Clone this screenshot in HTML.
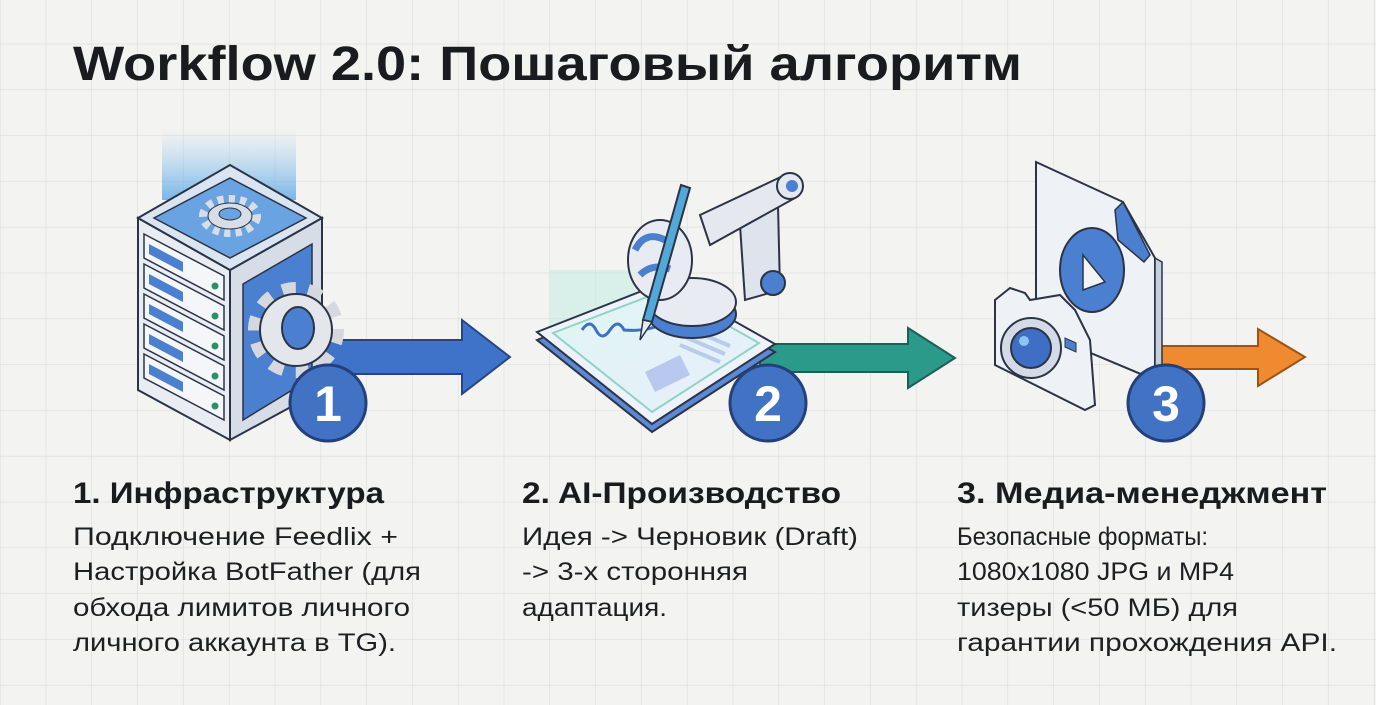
<!DOCTYPE html>
<html><head><meta charset="utf-8"><style>
html,body{margin:0;padding:0;background:#f3f3f1}
svg{display:block}
text{font-family:"Liberation Sans","DejaVu Sans",sans-serif}
</style></head><body>
<svg width="1376" height="705" viewBox="0 0 1376 705" xmlns="http://www.w3.org/2000/svg">
<defs>
<pattern id="g" width="45.8" height="45.8" patternUnits="userSpaceOnUse" x="0.5" y="-1.5">
<path d="M45.8 0V45.8M0 45.8H45.8" stroke="#dddddb" stroke-width="1.3" fill="none"/>
</pattern>
<linearGradient id="glow" x1="0" y1="0" x2="0" y2="1"><stop offset="0" stop-color="#8cc4f0" stop-opacity="0"/><stop offset="1" stop-color="#5aa6e6" stop-opacity=".8"/></linearGradient>
<linearGradient id="scr" x1="0" y1="0" x2="1" y2="1"><stop offset="0" stop-color="#dff6f2"/><stop offset="1" stop-color="#e8eefc"/></linearGradient>
</defs>
<rect width="1376" height="705" fill="#f3f3f1"/>
<rect width="1376" height="705" fill="url(#g)"/>

<text x="73" y="80" font-size="48" font-weight="bold" fill="#1a1b1e" textLength="949" lengthAdjust="spacingAndGlyphs">Workflow 2.0: Пошаговый алгоритм</text>

<!-- Arrow 1 -->
<polygon points="300,340 462,340 462,320 510,357 462,394 462,374 300,374" fill="#3f73c9" stroke="#27467f" stroke-width="2"/>
<!-- Server -->
<rect x="162" y="130" width="134" height="70" fill="url(#glow)"/>
<polygon points="138,218 230,270 230,440 138,390" fill="#e9edf3" stroke="#2b3446" stroke-width="2"/>
<polygon points="230,270 322,218 322,390 230,440" fill="#d7dde6" stroke="#2b3446" stroke-width="2"/>
<polygon points="243,284 312,244 312,378 243,420" fill="#4b7fd0" stroke="#2b3446" stroke-width="1.5"/>
<polygon points="230,165 322,218 230,270 138,218" fill="#dbe5f1" stroke="#2b3446" stroke-width="2"/>
<polygon points="230,178 306,218 230,258 154,218" fill="#6aa3e2" stroke="#2b3446" stroke-width="1.5"/>
<ellipse cx="230" cy="216" rx="26" ry="16" fill="none" stroke="#d8dee7" stroke-width="10" stroke-dasharray="6 5"/>
<ellipse cx="230" cy="216" rx="22" ry="13" fill="#d8dee7" stroke="#2b3446" stroke-width="1"/>
<ellipse cx="230" cy="214" rx="11" ry="6" fill="#6aa3e2" stroke="#2b3446" stroke-width="1"/>
<g stroke="#2b3446" stroke-width="1.5">
<polygon points="144,234 224,276 224,300 144,258" fill="#f4f6f9"/>
<polygon points="144,264 224,306 224,330 144,288" fill="#f4f6f9"/>
<polygon points="144,294 224,336 224,360 144,318" fill="#f4f6f9"/>
<polygon points="144,324 224,366 224,390 144,348" fill="#f4f6f9"/>
<polygon points="144,354 224,396 224,420 144,378" fill="#f4f6f9"/>
</g>
<g fill="#4b7fd0">
<polygon points="149,244 183,262 183,272 149,254"/>
<polygon points="149,274 183,292 183,302 149,284"/>
<polygon points="149,304 183,322 183,332 149,314"/>
<polygon points="149,334 183,352 183,362 149,344"/>
<polygon points="149,364 183,382 183,392 149,374"/>
</g>
<g fill="#2a8f6a"><circle cx="215" cy="286" r="3.5"/><circle cx="215" cy="316" r="3.5"/><circle cx="215" cy="346" r="3.5"/><circle cx="215" cy="376" r="3.5"/><circle cx="215" cy="406" r="3.5"/></g>
<circle cx="296" cy="330" r="40" fill="none" stroke="#d5d9df" stroke-width="16" stroke-dasharray="13 12"/>
<circle cx="296" cy="330" r="36" fill="#e3e6ea" stroke="#2b3446" stroke-width="2"/>
<ellipse cx="298" cy="328" rx="16" ry="21" fill="#4b7fd0" stroke="#2b3446" stroke-width="2"/>
<circle cx="328" cy="403" r="38" fill="#4272c4" stroke="#23407a" stroke-width="3"/>
<text x="328" y="421" font-size="50" font-weight="bold" fill="#fff" text-anchor="middle">1</text>

<!-- Arrow 2 -->
<polygon points="760,344 908,344 908,328 955,358 908,388 908,372 760,372" fill="#2c9a8a" stroke="#1d5f56" stroke-width="2"/>
<!-- Tablet -->
<rect x="550" y="270" width="110" height="60" fill="#bdeee2" opacity=".5"/>
<polygon points="537,340 665,290 775,352 652,432" fill="#5c88d6" stroke="#2b3446" stroke-width="2"/>
<polygon points="537,332 665,282 775,344 652,424" fill="#eef3fa" stroke="#2b3446" stroke-width="2"/>
<polygon points="553,333 665,290 759,343 652,412" fill="url(#scr)" stroke="#8fd3c7" stroke-width="2"/>
<path d="M582,330 q8,-12 14,0 t14,0 t14,0 q20,2 40,-6" fill="none" stroke="#3f6fc4" stroke-width="3"/>
<polygon points="645,372 680,355 690,375 655,392" fill="#b9c8ee"/>
<g stroke="#b8cbe8" stroke-width="4"><line x1="680" y1="345" x2="720" y2="362"/><line x1="685" y1="337" x2="725" y2="354"/><line x1="690" y1="329" x2="730" y2="346"/></g>
<!-- robot arm -->
<ellipse cx="692" cy="314" rx="44" ry="24" fill="#4b7fd0" stroke="#2b3446" stroke-width="2"/>
<ellipse cx="692" cy="302" rx="44" ry="24" fill="#e8ecf2" stroke="#2b3446" stroke-width="2"/>
<polygon points="740,225 778,205 780,290 745,300" fill="#dfe4ec" stroke="#2b3446" stroke-width="2"/>
<circle cx="773" cy="283" r="12" fill="#4b7fd0" stroke="#2b3446" stroke-width="2"/>
<polygon points="700,215 785,175 795,198 710,245" fill="#e5e9ef" stroke="#2b3446" stroke-width="2"/>
<circle cx="790" cy="186" r="13" fill="#e5e9ef" stroke="#2b3446" stroke-width="2"/>
<circle cx="792" cy="186" r="6" fill="#4b7fd0"/>
<ellipse cx="660" cy="260" rx="32" ry="40" fill="#e8ecf2" stroke="#2b3446" stroke-width="2"/>
<path d="M635,250 q10,-20 30,-10 M640,275 q12,-12 30,-6" stroke="#4b7fd0" stroke-width="7" fill="none"/>
<polygon points="681,185 690,188 652,322 643,320" fill="#52a8d8" stroke="#2b3446" stroke-width="2"/>
<polygon points="643,320 652,322 640,340" fill="#e8ecf2" stroke="#2b3446" stroke-width="1.5"/>
<circle cx="768" cy="403" r="38" fill="#4272c4" stroke="#23407a" stroke-width="3"/>
<text x="768" y="421" font-size="50" font-weight="bold" fill="#fff" text-anchor="middle">2</text>

<!-- Arrow 3 -->
<polygon points="1150,346 1258,346 1258,329 1305,357 1258,386 1258,369 1150,369" fill="#f08a30" stroke="#9a5416" stroke-width="2"/>
<!-- Document -->
<polygon points="1036,162 1123,202 1155,258 1155,380 1036,330" fill="#eef1f6" stroke="#2b3446" stroke-width="2"/>
<polygon points="1155,258 1162,262 1162,384 1155,380" fill="#c6cfdc" stroke="#2b3446" stroke-width="1.5"/>
<polygon points="1115,210 1123,202 1150,255 1144,262 1118,240" fill="#4b7fd0" stroke="#2b3446" stroke-width="1.5"/>
<ellipse cx="1092" cy="270" rx="32" ry="42" fill="#4b7fd0" stroke="#2b3446" stroke-width="2"/>
<polygon points="1083,255 1105,282 1083,290" fill="#f2f4f8" stroke="#2b3446" stroke-width="1.5"/>
<!-- Camera -->
<polygon points="995,300 1010,288 1025,293 1030,300 1060,295 1075,310 1090,340 1095,405 1085,410 995,365" fill="#eef1f6" stroke="#2b3446" stroke-width="2"/>
<circle cx="1031" cy="348" r="30" fill="#d4dbe6" stroke="#2b3446" stroke-width="2"/>
<circle cx="1031" cy="348" r="20" fill="#3f6fc4" stroke="#2b3446" stroke-width="2"/>
<circle cx="1024" cy="341" r="5" fill="#8fc4f0"/>
<polygon points="1065,338 1076,343 1076,352 1065,347" fill="#4b7fd0" stroke="#2b3446" stroke-width="1"/>
<circle cx="1166" cy="403" r="38" fill="#4272c4" stroke="#23407a" stroke-width="3"/>
<text x="1166" y="421" font-size="50" font-weight="bold" fill="#fff" text-anchor="middle">3</text>

<!-- Text columns -->
<g font-weight="bold" font-size="30" fill="#1a1b1e">
<text x="73" y="503" textLength="311" lengthAdjust="spacingAndGlyphs">1. Инфраструктура</text>
<text x="522" y="503" textLength="319" lengthAdjust="spacingAndGlyphs">2. AI-Производство</text>
<text x="957" y="503" textLength="370" lengthAdjust="spacingAndGlyphs">3. Медиа-менеджмент</text>
</g>
<g font-size="25" fill="#1e1f22">
<text x="73" y="545" textLength="325" lengthAdjust="spacingAndGlyphs">Подключение Feedlix +</text>
<text x="73" y="580" textLength="348" lengthAdjust="spacingAndGlyphs">Настройка BotFather (для</text>
<text x="73" y="616" textLength="337" lengthAdjust="spacingAndGlyphs">обхода лимитов личного</text>
<text x="73" y="651" textLength="323" lengthAdjust="spacingAndGlyphs">личного аккаунта в TG).</text>
<text x="522" y="545" textLength="336" lengthAdjust="spacingAndGlyphs">Идея -&gt; Черновик (Draft)</text>
<text x="522" y="580" textLength="226" lengthAdjust="spacingAndGlyphs">-&gt; 3-х сторонняя</text>
<text x="522" y="616" textLength="145" lengthAdjust="spacingAndGlyphs">адаптация.</text>
<text x="957" y="545" textLength="251" lengthAdjust="spacingAndGlyphs">Безопасные форматы:</text>
<text x="957" y="580" textLength="277" lengthAdjust="spacingAndGlyphs">1080x1080 JPG и MP4</text>
<text x="957" y="616" textLength="281" lengthAdjust="spacingAndGlyphs">тизеры (&lt;50 МБ) для</text>
<text x="957" y="651" textLength="380" lengthAdjust="spacingAndGlyphs">гарантии прохождения API.</text>
</g>
</svg>
</body></html>
